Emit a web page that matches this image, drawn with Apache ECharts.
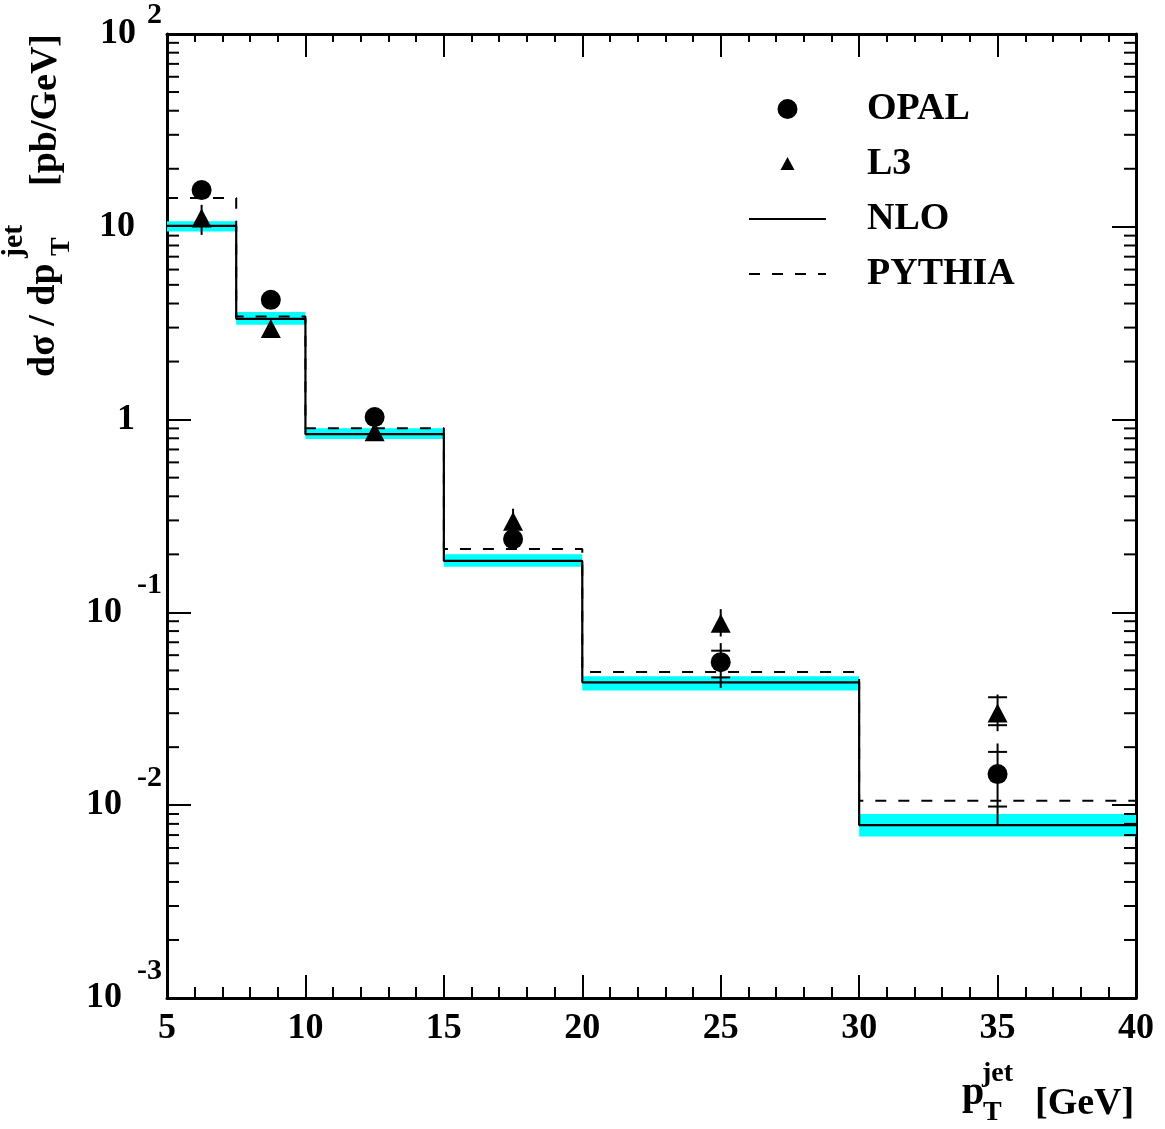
<!DOCTYPE html>
<html><head><meta charset="utf-8">
<script src="https://cdn.jsdelivr.net/npm/echarts@6/dist/echarts.min.js"></script>
<style>html,body{margin:0;padding:0;background:#fff}#c{width:1165px;height:1129px}</style>
</head><body><div id="c"></div>
<script>
// ---- data ----
const binEdges = [5, 7.5, 10, 15, 20, 30, 40];
const nloValues = [10.1, 3.33, 0.84, 0.185, 0.0434, 0.00789];
const nloBandLow = [9.46, 3.10, 0.793, 0.1725, 0.0393, 0.00689];
const nloBandHigh = [10.7, 3.61, 0.901, 0.2005, 0.0466, 0.0090];
const pythiaValues = [14.1, 3.43, 0.903, 0.213, 0.0491, 0.01055];
const pointX = [6.25, 8.75, 12.5, 17.5, 25, 35];
const opalValues = [15.5, 4.18, 1.03, 0.240, 0.0552, 0.0145];
const opalErrLow = [14.6, 3.95, 0.98, 0.228, 0.0406, 0.0079];
const opalErrHigh = [16.4, 4.40, 1.08, 0.252, 0.0693, 0.0209];
const opalStatLow = [null, null, null, null, 0.0460, 0.00984];
const opalStatHigh = [null, null, null, null, 0.0633, 0.0189];
const l3Values = [11.1, 2.97, 0.866, 0.297, 0.0879, 0.0301];
const l3ErrLow = [9.08, 2.80, 0.83, 0.26, 0.075, 0.0242];
const l3ErrHigh = [13.0, 3.15, 0.90, 0.345, 0.104, 0.0375];
const l3StatLow = [null, null, null, null, null, 0.0260];
const l3StatHigh = [null, null, null, null, null, 0.0363];
const xTickValues = [5, 10, 15, 20, 25, 30, 35, 40];
const yTickValues = [0.001, 0.01, 0.1, 1, 10, 100];
const yTickLabels = ['10^-3', '10^-2', '10^-1', '1', '10', '10^2'];
const yMinorTickValues = [
  0.002, 0.003, 0.004, 0.005, 0.006, 0.007, 0.008, 0.009,
  0.02, 0.03, 0.04, 0.05, 0.06, 0.07, 0.08, 0.09,
  0.2, 0.3, 0.4, 0.5, 0.6, 0.7, 0.8, 0.9,
  2, 3, 4, 5, 6, 7, 8, 9,
  20, 30, 40, 50, 60, 70, 80, 90
];
const seriesNames = ['OPAL', 'L3', 'NLO', 'PYTHIA'];

// ---- build ----
const FONT = '"Liberation Serif", "Times New Roman", serif';
const nb = nloValues.length;
const stepData = vals => binEdges.map((e, i) => [e, vals[Math.min(i, nb - 1)]]);
const bandData = nloValues.map((v, i) => [binEdges[i], binEdges[i + 1], nloBandLow[i], nloBandHigh[i]]);
const errData = (lo, hi) => pointX.map((x, i) => [x, lo[i], hi[i]]);
function capData(lo, hi) {
  const out = [];
  pointX.forEach((x, i) => {
    if (lo[i] != null) out.push([x, lo[i]]);
    if (hi[i] != null) out.push([x, hi[i]]);
  });
  return out;
}
const caps = capData(opalStatLow, opalStatHigh).concat(capData(l3StatLow, l3StatHigh));
const errs = errData(opalErrLow, opalErrHigh).concat(errData(l3ErrLow, l3ErrHigh));

function yLabel(v) {
  const e = Math.round(Math.log10(v));
  const idx = yTickValues.findIndex(t => Math.round(Math.log10(t)) === e);
  const lab = yTickLabels[idx];
  if (lab.indexOf('^') < 0) return '{bp|' + lab + '}';
  const parts = lab.split('^');
  return '{b|' + parts[0] + '}{' + (parts[1].charAt(0) === '-' ? 'sn' : 's2') + '|' + parts[1] + '}';
}

const blk = '#000';
const chart = echarts.init(document.getElementById('c'), null, {renderer: 'canvas'});
const baseX = {
  type: 'value', min: 5, max: 40, interval: 5,
  splitLine: {show: false},
  axisLine: {show: true, lineStyle: {color: blk, width: 3}},
  axisTick: {show: true, inside: true, length: 23, lineStyle: {color: blk, width: 2}},
  minorTick: {show: true, splitNumber: 5, length: 11, lineStyle: {color: blk, width: 2}},
};
const baseY = {
  type: 'log', logBase: 10, min: 0.001, max: 100, splitNumber: 5,
  splitLine: {show: false},
  axisLine: {show: true, lineStyle: {color: blk, width: 3}},
  axisTick: {show: true, inside: true, length: 24, lineStyle: {color: blk, width: 2}},
  minorTick: {show: false},
};
const legendTriangle = 'path://M0,0M20,20M10,3L17,16L3,16Z';

chart.setOption({
  animation: false,
  backgroundColor: '#fff',
  grid: {left: 167, top: 30, right: 29, bottom: 131, containLabel: false},
  xAxis: [
    Object.assign({}, baseX, {position: 'bottom',
      axisLabel: {show: true, color: blk, fontFamily: FONT, fontWeight: 'bold', fontSize: 36, margin: 13,
        formatter: v => xTickValues.indexOf(v) >= 0 ? String(v) : ''}}),
    Object.assign({}, baseX, {position: 'top', axisLabel: {show: false},
      minorTick: {show: true, splitNumber: 5, length: 8, lineStyle: {color: blk, width: 2}}})
  ],
  yAxis: [
    Object.assign({}, baseY, {position: 'left',
      axisLabel: {show: true, margin: 5, formatter: yLabel,
        rich: {
          b: {fontFamily: FONT, fontWeight: 'bold', fontSize: 36, lineHeight: 36, color: blk},
          bp: {fontFamily: FONT, fontWeight: 'bold', fontSize: 36, lineHeight: 36, color: blk, padding: [0, 27, 0, 0]},
          sn: {fontFamily: FONT, fontWeight: 'bold', fontSize: 30, lineHeight: 30, color: blk, padding: [0, 0, 54, 15]},
          s2: {fontFamily: FONT, fontWeight: 'bold', fontSize: 30, lineHeight: 30, color: blk, padding: [0, 0, 38, 11]}
        }}}),
    Object.assign({}, baseY, {position: 'right', axisLabel: {show: false}})
  ],
  legend: {
    orient: 'vertical', left: 748, top: 90, padding: 0,
    itemWidth: 77, itemHeight: 20, itemGap: 17,
    selectedMode: false,
    data: [
      {name: 'OPAL'},
      {name: 'L3', icon: legendTriangle},
      {name: 'NLO', itemStyle: {opacity: 0}},
      {name: 'PYTHIA', itemStyle: {opacity: 0}}
    ],
    symbolKeepAspect: true,
    formatter: n => '{t|' + n + '}',
    textStyle: {rich: {t: {fontFamily: FONT, fontWeight: 'bold', fontSize: 38, lineHeight: 36, color: blk, padding: [0, 0, 0, 36]}}}
  },
  graphic: [
    {type: 'text', x: 44, y: 377, rotation: Math.PI / 2, z: 10,
      style: {text: 'dσ / dp', fontFamily: FONT, fontWeight: 'bold', fontSize: 38, fill: blk, align: 'left', verticalAlign: 'middle'}},
    {type: 'text', x: 14, y: 258, rotation: Math.PI / 2, z: 10,
      style: {text: 'jet', fontFamily: FONT, fontWeight: 'bold', fontSize: 30, fill: blk, align: 'left', verticalAlign: 'middle'}},
    {type: 'text', x: 62, y: 256, rotation: Math.PI / 2, z: 10,
      style: {text: 'T', fontFamily: FONT, fontWeight: 'bold', fontSize: 28, fill: blk, align: 'left', verticalAlign: 'middle'}},
    {type: 'text', x: 46, y: 186, rotation: Math.PI / 2, z: 10,
      style: {text: '[pb/GeV]', fontFamily: FONT, fontWeight: 'bold', fontSize: 38, fill: blk, align: 'left', verticalAlign: 'middle'}},
    {type: 'text', x: 962, y: 1094, z: 10,
      style: {text: 'p', fontFamily: FONT, fontWeight: 'bold', fontSize: 40, fill: blk, align: 'left', verticalAlign: 'middle'}},
    {type: 'text', x: 982, y: 1074, z: 10,
      style: {text: 'jet', fontFamily: FONT, fontWeight: 'bold', fontSize: 28, fill: blk, align: 'left', verticalAlign: 'middle'}},
    {type: 'text', x: 983, y: 1113, z: 10,
      style: {text: 'T', fontFamily: FONT, fontWeight: 'bold', fontSize: 28, fill: blk, align: 'left', verticalAlign: 'middle'}},
    {type: 'text', x: 1035, y: 1104, z: 10,
      style: {text: '[GeV]', fontFamily: FONT, fontWeight: 'bold', fontSize: 38, fill: blk, align: 'left', verticalAlign: 'middle'}}
  ],
  series: [
    {name: 'band', type: 'custom', xAxisIndex: 0, yAxisIndex: 0, z: 1, silent: true,
      encode: {x: [0, 1], y: [2, 3]},
      data: bandData,
      renderItem: (params, api) => {
        const p0 = api.coord([api.value(0), api.value(3)]);
        const p1 = api.coord([api.value(1), api.value(2)]);
        return {type: 'rect', shape: {x: p0[0], y: p0[1], width: p1[0] - p0[0], height: p1[1] - p0[1]},
          style: {fill: '#00ffff'}};
      }},
    {name: 'NLO', type: 'line', step: 'end', data: stepData(nloValues), symbol: 'none', z: 3,
      lineStyle: {color: blk, width: 2.2}, itemStyle: {color: blk}},
    {name: 'PYTHIA', type: 'line', step: 'end', data: stepData(pythiaValues), symbol: 'none', z: 3,
      lineStyle: {color: blk, width: 2, type: [11, 12]}, itemStyle: {color: blk}},
    {name: 'errors', type: 'custom', z: 4, silent: true,
      encode: {x: 0, y: [1, 2]},
      data: errs,
      renderItem: (params, api) => {
        const a = api.coord([api.value(0), api.value(1)]);
        const b = api.coord([api.value(0), api.value(2)]);
        return {type: 'line', shape: {x1: a[0], y1: a[1], x2: b[0], y2: b[1]}, style: {stroke: blk, lineWidth: 2}};
      }},
    {name: 'caps', type: 'custom', z: 4, silent: true,
      encode: {x: 0, y: 1},
      data: caps,
      renderItem: (params, api) => {
        const a = api.coord([api.value(0), api.value(1)]);
        return {type: 'line', shape: {x1: a[0] - 9.5, y1: a[1], x2: a[0] + 9.5, y2: a[1]}, style: {stroke: blk, lineWidth: 2}};
      }},
    {name: 'OPAL', type: 'scatter', symbol: 'circle', symbolSize: 20, z: 5,
      data: pointX.map((x, i) => [x, opalValues[i]]), itemStyle: {color: blk, opacity: 1}},
    {name: 'L3', type: 'scatter', symbol: 'triangle', symbolSize: [20, 19], z: 5,
      data: pointX.map((x, i) => [x, l3Values[i]]), itemStyle: {color: blk, opacity: 1}},
    {name: 'yminor', type: 'custom', z: 6, silent: true, clip: false,
      encode: {y: 0},
      data: yMinorTickValues.map(v => [v]),
      renderItem: (params, api) => {
        const v = api.value(0);
        const l = api.coord([5, v]);
        const r = api.coord([40, v]);
        return {type: 'group', children: [
          {type: 'line', shape: {x1: l[0], y1: l[1], x2: l[0] + 12, y2: l[1]}, style: {stroke: blk, lineWidth: 2}},
          {type: 'line', shape: {x1: r[0] - 12, y1: r[1], x2: r[0], y2: r[1]}, style: {stroke: blk, lineWidth: 2}}
        ]};
      }}
  ]
});
</script>
</body></html>
